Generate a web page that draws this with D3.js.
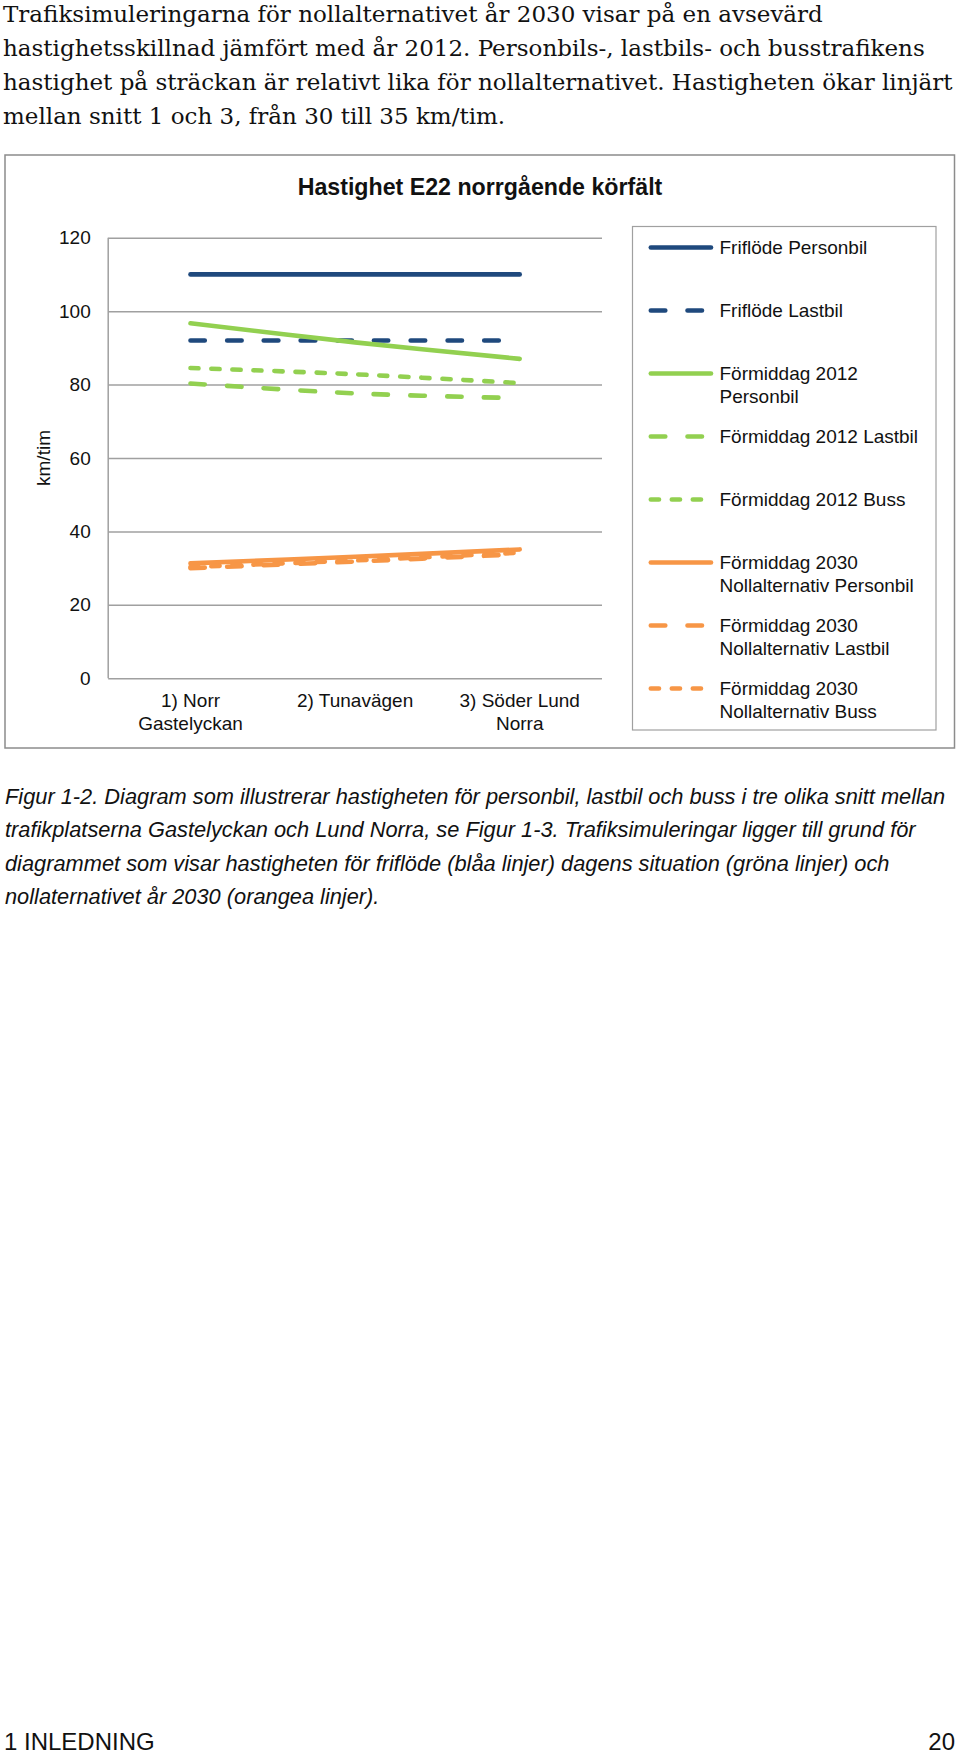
<!DOCTYPE html>
<html>
<head>
<meta charset="utf-8">
<script src="https://cdn.jsdelivr.net/npm/d3@7"></script>
<style>
  body { margin: 0; background: #fff; }
  svg { display: block; }
</style>
</head>
<body>
<div id="page"></div>
<script>
// page text
var introLines = [
  "Trafiksimuleringarna för nollalternativet år 2030 visar på en avsevärd",
  "hastighetsskillnad jämfört med år 2012. Personbils-, lastbils- och busstrafikens",
  "hastighet på sträckan är relativt lika för nollalternativet. Hastigheten ökar linjärt",
  "mellan snitt 1 och 3, från 30 till 35 km/tim."
];
var captionLines = [
  "Figur 1-2. Diagram som illustrerar hastigheten för personbil, lastbil och buss i tre olika snitt mellan",
  "trafikplatserna Gastelyckan och Lund Norra, se Figur 1-3. Trafiksimuleringar ligger till grund för",
  "diagrammet som visar hastigheten för friflöde (blåa linjer) dagens situation (gröna linjer) och",
  "nollaternativet år 2030 (orangea linjer)."
];

// chart data
var chartTitle = "Hastighet E22 norrgående körfält";
var yLabel = "km/tim";
var categories = ["1) Norr Gastelyckan", "2) Tunavägen", "3) Söder Lund Norra"];
var categoryLines = [["1) Norr", "Gastelyckan"], ["2) Tunavägen"], ["3) Söder Lund", "Norra"]];
var yTicks = [0, 20, 40, 60, 80, 100, 120];

var seriesNames = [
  "Friflöde Personbil",
  "Friflöde Lastbil",
  "Förmiddag 2012 Personbil",
  "Förmiddag 2012 Lastbil",
  "Förmiddag 2012 Buss",
  "Förmiddag 2030 Nollalternativ Personbil",
  "Förmiddag 2030 Nollalternativ Lastbil",
  "Förmiddag 2030 Nollalternativ Buss"
];
var legendLines = [
  ["Friflöde Personbil"],
  ["Friflöde Lastbil"],
  ["Förmiddag 2012", "Personbil"],
  ["Förmiddag 2012 Lastbil"],
  ["Förmiddag 2012 Buss"],
  ["Förmiddag 2030", "Nollalternativ Personbil"],
  ["Förmiddag 2030", "Nollalternativ Lastbil"],
  ["Förmiddag 2030", "Nollalternativ Buss"]
];

var friflodePersonbil = [110, 110, 110];
var friflodeLastbil = [92, 92, 92];
var fm2012Personbil = [96.7, 91.5, 87.0];
var fm2012Lastbil = [80.3, 77.6, 76.3];
var fm2012Buss = [84.5, 82.8, 80.4];
var fm2030Personbil = [31.3, 33.1, 35.1];
var fm2030Lastbil = [30.0, 31.8, 33.8];
var fm2030Buss = [30.3, 32.1, 34.2];

var seriesValues = [friflodePersonbil, friflodeLastbil, fm2012Personbil, fm2012Lastbil,
  fm2012Buss, fm2030Personbil, fm2030Lastbil, fm2030Buss];

// styles per series
var blue = "#1f497d", green = "#92d050", orange = "#f79646";
var longDash = "14.5,22.2", shortDash = "8.2,12.8";
var seriesStyle = [
  { color: blue, dash: null },
  { color: blue, dash: longDash },
  { color: green, dash: null },
  { color: green, dash: longDash },
  { color: green, dash: shortDash },
  { color: orange, dash: null },
  { color: orange, dash: longDash },
  { color: orange, dash: shortDash }
];

var W = 960, H = 1757;
var sans = "'Liberation Sans', Arial, sans-serif";

var svg = d3.select("#page").append("svg")
    .attr("width", W)
    .attr("height", H);

// intro paragraph
svg.append("g").selectAll("text")
    .data(introLines)
  .enter().append("text")
    .attr("x", 3)
    .attr("y", function(d, i) { return 21.7 + i * 34.2; })
    .style("font-family", "'DejaVu Serif', serif")
    .style("font-size", "23px")
    .style("fill", "#111")
    .text(function(d) { return d; });

// chart frame
svg.append("rect")
    .attr("x", 5).attr("y", 155)
    .attr("width", 949.5).attr("height", 593)
    .style("fill", "none")
    .style("stroke", "#8c8c8c")
    .style("stroke-width", 1.5);

svg.append("text")
    .attr("x", 480).attr("y", 195)
    .attr("text-anchor", "middle")
    .style("font-family", sans)
    .style("font-weight", "bold")
    .style("font-size", "23.2px")
    .style("fill", "#111")
    .text(chartTitle);

var plot = { left: 108.2, right: 602, top: 237.7, bottom: 678.3 };

var x = d3.scaleBand()
    .domain(categories)
    .range([plot.left, plot.right]);

var y = d3.scaleLinear()
    .domain([0, 120])
    .range([plot.bottom, plot.top]);

// gridlines + y labels
var yAxis = svg.append("g")
    .attr("transform", "translate(" + plot.left + ",0)")
    .call(d3.axisLeft(y).tickValues(yTicks).tickSize(-(plot.right - plot.left)).tickPadding(17.5));

yAxis.select(".domain").remove();
yAxis.selectAll(".tick line")
    .style("stroke", "#a0a0a0")
    .style("stroke-width", 1.5);
yAxis.selectAll(".tick text")
    .style("font-family", sans)
    .style("font-size", "19px")
    .style("fill", "#111");

// vertical axis line
svg.append("line")
    .attr("x1", plot.left).attr("x2", plot.left)
    .attr("y1", y(120)).attr("y2", y(0))
    .style("stroke", "#a0a0a0")
    .style("stroke-width", 1.5);

// category labels
var xAxis = svg.append("g")
    .attr("transform", "translate(0," + plot.bottom + ")")
    .call(d3.axisBottom(x).tickSize(0).tickFormat(""));
xAxis.select(".domain").remove();
xAxis.selectAll(".tick text").remove();
xAxis.selectAll(".tick").each(function(d, i) {
  var t = d3.select(this).append("text")
      .attr("text-anchor", "middle")
      .style("font-family", sans)
      .style("font-size", "19px")
      .style("fill", "#111");
  categoryLines[i].forEach(function(line, j) {
    t.append("tspan")
        .attr("x", 0)
        .attr("y", 29 + j * 22.3)
        .text(line);
  });
});

svg.append("text")
    .attr("transform", "translate(50,458) rotate(-90)")
    .attr("text-anchor", "middle")
    .style("font-family", sans)
    .style("font-size", "19px")
    .style("fill", "#111")
    .text(yLabel);

// series lines
var line = d3.line()
    .x(function(d, i) { return x(categories[i]) + x.bandwidth() / 2; })
    .y(function(d) { return y(d); })
    .curve(d3.curveCatmullRom);

svg.append("g").selectAll("path")
    .data(seriesValues)
  .enter().append("path")
    .attr("d", line)
    .style("fill", "none")
    .style("stroke", function(d, i) { return seriesStyle[i].color; })
    .style("stroke-width", 4.6)
    .style("stroke-linecap", "round")
    .style("stroke-dasharray", function(d, i) { return seriesStyle[i].dash; });

// legend
var legend = svg.append("g");
legend.append("rect")
    .attr("x", 632.5).attr("y", 226.5)
    .attr("width", 303.5).attr("height", 503.5)
    .style("fill", "none")
    .style("stroke", "#a0a0a0")
    .style("stroke-width", 1.2);

var item = legend.selectAll("g.item")
    .data(seriesNames)
  .enter().append("g")
    .attr("class", "item")
    .attr("transform", function(d, i) { return "translate(0," + (247.5 + i * 63.0) + ")"; });

item.append("line")
    .attr("x1", 650.8).attr("x2", 711)
    .style("stroke", function(d, i) { return seriesStyle[i].color; })
    .style("stroke-width", 4.6)
    .style("stroke-linecap", "round")
    .style("stroke-dasharray", function(d, i) { return seriesStyle[i].dash; });

item.append("text")
    .style("font-family", sans)
    .style("font-size", "19px")
    .style("fill", "#111")
    .each(function(d, i) {
      var t = d3.select(this);
      legendLines[i].forEach(function(l, j) {
        t.append("tspan").attr("x", 719.5).attr("y", 6.5 + j * 23.2).text(l);
      });
    });

// caption
svg.append("g").selectAll("text")
    .data(captionLines)
  .enter().append("text")
    .attr("x", 5)
    .attr("y", function(d, i) { return 803.5 + i * 33.5; })
    .style("font-family", sans)
    .style("font-style", "italic")
    .style("font-size", "21.8px")
    .style("fill", "#111")
    .text(function(d) { return d; });

// footer
svg.append("text")
    .attr("x", 4).attr("y", 1750)
    .style("font-family", sans)
    .style("font-size", "24px")
    .style("fill", "#111")
    .text("1 INLEDNING");
svg.append("text")
    .attr("x", 955).attr("y", 1750)
    .attr("text-anchor", "end")
    .style("font-family", sans)
    .style("font-size", "24px")
    .style("fill", "#111")
    .text("20");
</script>
</body>
</html>
